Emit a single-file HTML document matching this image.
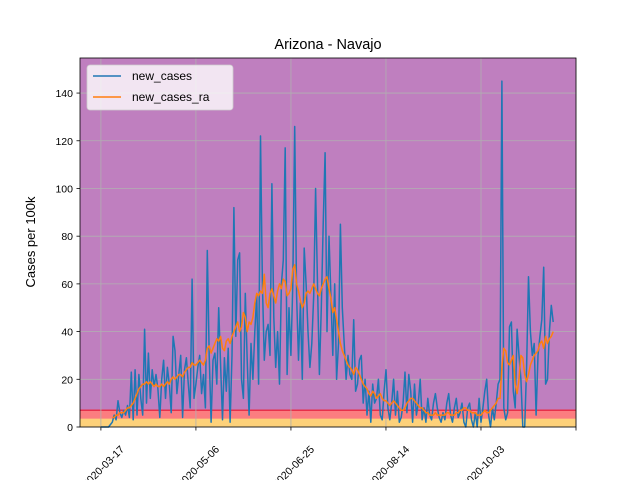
<!DOCTYPE html>
<html><head><meta charset="utf-8"><style>
body{margin:0;background:#fff;}
svg text{font-family:"Liberation Sans","DejaVu Sans",sans-serif;}
</style></head><body>
<svg id="chart" width="640" height="480" xmlns="http://www.w3.org/2000/svg">
<rect width="640" height="480" fill="#fff"/>
<text x="328" y="49" font-size="14.5" text-anchor="middle">Arizona - Navajo</text>
<text x="0" y="0" font-size="13" text-anchor="middle" transform="translate(35,242) rotate(-90)">Cases per 100k</text>
<g id="plot"></g>
</svg>
<script>
const tickDates = ["2020-03-17","2020-05-06","2020-06-25","2020-08-14","2020-10-03",""];
const tickDays = [0,50,100,150,200,250];
const yTicks = [0,20,40,60,80,100,120,140];
const cases = [0,0,0,0,0,1,2,5,3,11,
6,4,7,5,9,4,23,3,24,5,
22,12,5,41,10,31,12,24,17,22,
16,4,20,28,12,25,18,6,38,32,
14,22,30,4,24,29,18,8,62,12,
18,25,30,14,22,8,74,30,2,28,
31,18,50,26,3,29,15,33,2,30,
92,38,70,73,20,12,56,28,5,35,
20,40,55,18,122,60,28,40,43,30,
102,46,25,40,18,60,70,117,22,50,
30,60,126,55,28,52,20,75,60,40,
25,35,55,100,60,22,50,85,115,40,
80,55,30,60,20,35,85,50,35,20,
30,22,20,45,15,18,28,30,10,20,
5,15,2,18,10,12,20,5,3,15,
24,8,3,10,20,5,15,2,4,10,
23,6,22,15,2,18,5,10,20,3,
8,2,12,5,3,10,14,8,4,2,
6,3,10,14,5,2,8,12,4,6,
10,2,0,8,10,3,0,6,0,12,
2,8,15,20,5,0,8,3,10,18,
20,145,8,3,6,42,44,15,8,41,
30,20,0,0,25,63,40,30,35,5,
30,38,45,67,18,20,40,51,44];
const casesRa = [null,null,null,null,null,null,4,4,5,5,
6,6,6,7,8,8,9,10,12,14,
16,17,18,18,19,18,19,18,17,18,
17,17,18,17,18,19,18,20,21,20,
21,22,22,21,23,24,25,25,27,26,
26,27,28,27,26,28,33,34,31,33,
35,37,36,38,33,32,36,37,35,38,
40,42,44,40,42,48,46,40,44,43,
46,52,56,55,57,56,64,52,50,56,
58,55,52,57,60,58,62,61,55,56,
58,66,68,60,57,53,50,52,56,57,
56,58,60,58,56,55,58,60,62,63,
58,54,48,50,45,40,35,32,30,28,
26,25,24,22,25,24,22,20,18,17,
16,14,13,15,14,12,13,14,12,11,
11,10,9,10,11,10,9,8,7,7,
8,10,11,12,12,11,10,9,8,8,
7,6,6,5,5,5,6,5,5,5,
5,5,6,6,5,5,5,6,6,7,
7,8,8,7,7,6,6,6,5,5,
5,6,7,6,6,7,8,9,10,12,
12,25,33,32,27,26,28,30,18,14,
20,30,29,22,19,22,26,28,30,31,
32,35,36,33,38,35,37,38,40];
const bandLevels = [7,3.5];

const L=80,R=576,T=58,B=427,xMin=-11,xMax=250,yMin=0,yMax=154.7;
const X=d=>L+(d-xMin)/(xMax-xMin)*(R-L);
const Y=v=>B-(v-yMin)/(yMax-yMin)*(B-T);
const NS="http://www.w3.org/2000/svg";
const g=document.getElementById('plot');
function mk(tag,attrs,parent){const e=document.createElementNS(NS,tag);for(const k in attrs)e.setAttribute(k,attrs[k]);(parent||g).appendChild(e);return e;}

let e=mk('rect',{x:L,y:T,width:R-L,height:B-T,fill:'#bf7fbf'});


e=mk('rect',{x:L,y:Y(bandLevels[0]),width:R-L,height:B-Y(bandLevels[0]),fill:'#fb7d80'});


e=mk('rect',{x:L,y:Y(bandLevels[1]),width:R-L,height:B-Y(bandLevels[1]),fill:'#fdd17a'});


e=mk('line',{x1:L,x2:R,y1:Y(bandLevels[0]),y2:Y(bandLevels[0]),stroke:'#e8304a','stroke-width':1.5});



yTicks.forEach(v=>{
  const y=Y(v);
  let l=mk('line',{x1:L,x2:R,y1:y,y2:y,stroke:'#b0b0b0','stroke-width':0.8});
  
  
  mk('line',{x1:L-3.5,x2:L,y1:y,y2:y,stroke:'#000','stroke-width':0.8});
  let t=mk('text',{x:L-7,y:y+4,'font-size':10.5,'text-anchor':'end'});
  t.textContent=v;
  
  
});
tickDays.forEach((d,i)=>{
  const x=X(d);
  let l=mk('line',{x1:x,x2:x,y1:T,y2:B,stroke:'#b0b0b0','stroke-width':0.8});
  
  
  mk('line',{x1:x,x2:x,y1:B,y2:B+3.5,stroke:'#000','stroke-width':0.8});
  if(tickDates[i]){
    let t=mk('text',{x:0,y:0,'font-size':10.5,'text-anchor':'middle',transform:`translate(${x+5},${B+42}) rotate(-45)`});
    t.textContent=tickDates[i];
    
    
  }
});
function path(arr){let s='',pen=false;arr.forEach((v,i)=>{if(v===null){pen=false;return;}s+=(pen?'L':'M')+X(i).toFixed(1)+','+Y(v).toFixed(1);pen=true;});return s;}
e=mk('path',{d:path(cases),fill:'none',stroke:'#1f77b4','stroke-width':1.5,'stroke-linejoin':'round'});


e=mk('path',{d:path(casesRa),fill:'none',stroke:'#ff7f0e','stroke-width':1.5,'stroke-linejoin':'round'});


e=mk('rect',{x:L,y:T,width:R-L,height:B-T,fill:'none',stroke:'#000','stroke-width':0.8});



const lg=mk('g',{});


mk('rect',{x:87,y:65,width:146,height:45,rx:3,fill:'#fff','fill-opacity':0.8,stroke:'#ccc','stroke-width':0.8},lg);
mk('line',{x1:93,x2:121,y1:76,y2:76,stroke:'#1f77b4','stroke-width':1.5},lg);
let t1=mk('text',{x:132,y:80,'font-size':12},lg);t1.textContent='new_cases';


mk('line',{x1:93,x2:121,y1:97,y2:97,stroke:'#ff7f0e','stroke-width':1.5},lg);
let t2=mk('text',{x:132,y:101,'font-size':12},lg);t2.textContent='new_cases_ra';


</script>
</body></html>
